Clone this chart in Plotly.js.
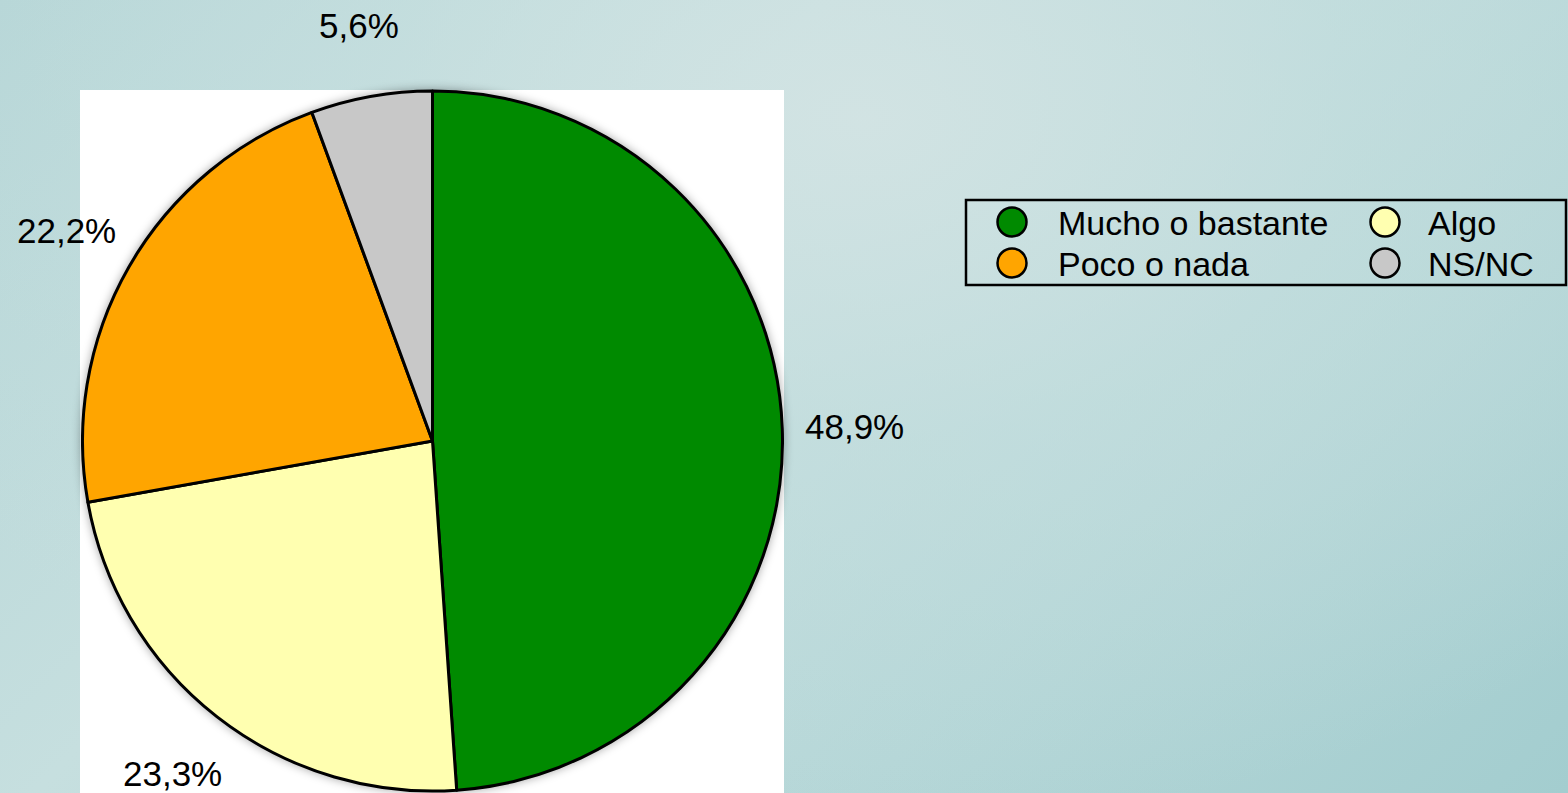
<!DOCTYPE html>
<html>
<head>
<meta charset="utf-8">
<script src="https://cdn.plot.ly/plotly-3.0.1.min.js"></script>
<style>
  html, body { margin:0; padding:0; width:1568px; height:793px; overflow:hidden; }
  body {
    background:
      radial-gradient(ellipse 70% 90% at 55% 15%, rgba(212,228,228,0.85) 0%, rgba(200,224,224,0.55) 45%, rgba(170,208,210,0) 100%),
      linear-gradient(135deg, #b4d5d6 0%, #c6dfdf 35%, #b4d6d7 70%, #a3cdcf 100%);
  }
  #chart { width:1568px; height:793px; }
  .pielayer { filter: drop-shadow(0px 0px 5px rgba(0,0,0,0.35)); }
</style>
</head>
<body>
<div id="chart"></div>
<script>
// ---- data ----
const categories = ['Mucho o bastante', 'Algo', 'Poco o nada', 'NS/NC'];
const values = [48.9, 23.3, 22.2, 5.6];
const valueLabels = ['48,9%', '23,3%', '22,2%', '5,6%'];
const colors = ['#008a00', '#ffffb0', '#ffa500', '#c8c8c8'];

// ---- geometry (pixels) ----
const W = 1568, H = 793;
const cx = 432.5, cy = 441, R = 350, labelR = 422;
const px = x => x / W;
const py = y => 1 - y / H;

const pie = {
  type: 'pie',
  labels: categories,
  values: values,
  sort: false,
  direction: 'clockwise',
  rotation: 0,
  marker: { colors: colors, line: { color: '#000000', width: 3 } },
  textinfo: 'none',
  hoverinfo: 'label+percent',
  showlegend: false,
  domain: { x: [px(cx - R), px(cx + R)], y: [py(cy + R), py(cy - R)] }
};

// percentage labels around the pie, placed from the data angles
const total = values.reduce((a, b) => a + b, 0);
const annotations = [];
let cum = 0;
values.forEach((v, i) => {
  const mid = (cum + v / 2) / total * 2 * Math.PI;
  cum += v;
  const x = cx + labelR * Math.sin(mid);
  const y = cy - labelR * Math.cos(mid);
  annotations.push({
    xref: 'paper', yref: 'paper', x: px(x), y: py(y),
    xanchor: 'center', yanchor: 'middle', showarrow: false,
    text: valueLabels[i],
    font: { family: 'Liberation Sans, Arial, sans-serif', size: 35, color: '#000' }
  });
});

// legend (2 columns x 2 rows, filled row by row)
const shapes = [
  { type: 'rect', xref: 'paper', yref: 'paper', layer: 'below',
    x0: px(80), x1: px(784), y0: py(793), y1: py(90),
    fillcolor: '#ffffff', line: { width: 0 } },
  { type: 'rect', xref: 'paper', yref: 'paper', layer: 'above',
    x0: px(966), x1: px(1566), y0: py(285), y1: py(200),
    fillcolor: 'rgba(0,0,0,0)', line: { color: '#000', width: 2.5 } }
];
const colCircle = [1012, 1385], colText = [1056, 1426], rowY = [222, 263];
const rC = 14.5;
categories.forEach((c, i) => {
  const col = i % 2, row = Math.floor(i / 2);
  const ccx = colCircle[col], ccy = rowY[row];
  shapes.push({
    type: 'circle', xref: 'paper', yref: 'paper', layer: 'above',
    x0: px(ccx - rC), x1: px(ccx + rC), y0: py(ccy + rC), y1: py(ccy - rC),
    fillcolor: colors[i], line: { color: '#000', width: 2.5 }
  });
  annotations.push({
    xref: 'paper', yref: 'paper', x: px(colText[col]), y: py(ccy + 1),
    xanchor: 'left', yanchor: 'middle', showarrow: false,
    text: c,
    font: { family: 'Liberation Sans, Arial, sans-serif', size: 34, color: '#000' }
  });
});

const layout = {
  width: W, height: H,
  margin: { l: 0, r: 0, t: 0, b: 0, pad: 0 },
  paper_bgcolor: 'rgba(0,0,0,0)',
  plot_bgcolor: 'rgba(0,0,0,0)',
  showlegend: false,
  shapes: shapes,
  annotations: annotations,
  font: { family: 'Liberation Sans, Arial, sans-serif' }
};

Plotly.newPlot('chart', [pie], layout, { displayModeBar: false });
</script>
</body>
</html>
